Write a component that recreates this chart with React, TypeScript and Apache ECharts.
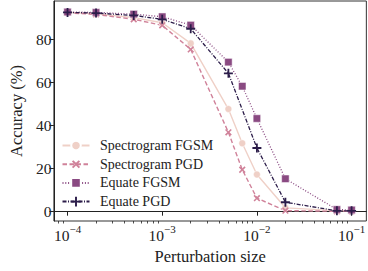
import React, { useEffect, useRef } from "react";
import * as echarts from "echarts";

const perturbation = [1e-4, 2e-4, 5e-4, 1e-3, 2e-3, 5e-3, 7e-3, 1e-2, 2e-2, 7e-2, 1e-1];
const perturbationEqPGD = [1e-4, 2e-4, 5e-4, 1e-3, 2e-3, 5e-3, 1e-2, 2e-2, 7e-2, 1e-1];
const spectrogramFGSM = [92.6, 92.0, 90.2, 87.8, 78.2, 47.7, 31.8, 17.3, 1.8, 0.5, 0.5];
const spectrogramPGD = [92.4, 91.7, 89.4, 86.6, 75.4, 36.9, 19.5, 6.3, 0.5, 0.2, 0.2];
const equateFGSM = [92.8, 92.6, 91.8, 90.6, 86.7, 69.5, 58.3, 43.3, 15.3, 1.0, 0.8];
const equatePGD = [92.6, 92.3, 91.2, 89.4, 85.0, 64.3, 29.6, 4.4, 0.4, 0.4];
const xMajorTicks = [1e-4, 1e-3, 1e-2, 1e-1];
const yTicks = [0, 20, 40, 60, 80];

const FONT = "Liberation Serif";
const PLUS = "path://M4,0H6V4H10V6H6V10H4V6H0V4H4Z";

function minorTicks(): number[] {
  const out: number[] = [];
  for (let e = -5; e <= 0; e++) {
    for (let m = 2; m <= 9; m++) out.push(m * Math.pow(10, e));
  }
  return out;
}

export default function App() {
  const ref = useRef<HTMLDivElement>(null);
  useEffect(() => {
    if (!ref.current) return;
    const chart = echarts.init(ref.current, null, { renderer: "svg" });
    const xMin = Math.pow(10, -4.144);
    const xMax = Math.pow(10, -0.844);
    const pair = (xs: number[], ys: number[]) => xs.map((x, i) => [x, ys[i]]);
    const axisColor = "#222";
    chart.setOption({
      animation: false,
      textStyle: { fontFamily: FONT },
      grid: {
        left: 50,
        top: 1,
        width: 320.8,
        height: 220,
        show: true,
        borderColor: "#333",
        borderWidth: 1,
      },
      legend: {
        orient: "vertical",
        left: 61.5,
        top: 138.5,
        padding: 0,
        itemWidth: 27,
        itemHeight: 12,
        itemGap: 4.7,
        symbolRotate: "inherit",
        textStyle: {
          fontFamily: FONT,
          fontSize: 14,
          color: "#222",
          lineHeight: 14,
          padding: [0, 0, 0, 5.5],
        },
        data: ["Spectrogram FGSM", "Spectrogram PGD", "Equate FGSM", "Equate PGD"],
      },
      xAxis: [
        {
          type: "log",
          min: xMin,
          max: xMax,
          name: "Perturbation size",
          nameLocation: "middle",
          nameGap: 27,
          nameTextStyle: { fontFamily: FONT, fontSize: 16.5, color: "#222" },
          axisLine: { show: true, lineStyle: { color: axisColor, width: 1 } },
          axisTick: { show: true, length: 4, customValues: xMajorTicks, lineStyle: { color: axisColor } },
          axisLabel: {
            show: true,
            customValues: xMajorTicks,
            margin: 2,
            fontFamily: FONT,
            formatter: (v: number) => `{b|10}{s|−${Math.abs(Math.round(Math.log10(v)))}}`,
            rich: {
              b: { fontFamily: FONT, fontSize: 15.5, color: "#222", lineHeight: 16, verticalAlign: "bottom" },
              s: { fontFamily: FONT, fontSize: 11, color: "#222", padding: [0, 0, 9, 0], verticalAlign: "bottom" },
            },
          },
          splitLine: { show: false },
          minorTick: { show: false },
        },
        {
          type: "log",
          min: xMin,
          max: xMax,
          position: "bottom",
          axisLine: { show: false },
          axisTick: { show: true, length: 2.5, customValues: minorTicks(), lineStyle: { color: axisColor, width: 0.8 } },
          axisLabel: { show: false },
          splitLine: { show: false },
        },
      ],
      yAxis: {
        type: "value",
        min: -4.32,
        max: 97.9,
        name: "Accuracy (%)",
        nameLocation: "middle",
        nameGap: 28,
        nameTextStyle: { fontFamily: FONT, fontSize: 16.5, color: "#222" },
        axisLine: { show: true, lineStyle: { color: axisColor, width: 1 } },
        axisTick: { show: true, length: 4.5, customValues: yTicks, lineStyle: { color: axisColor } },
        axisLabel: {
          customValues: yTicks,
          margin: 2.5,
          fontFamily: FONT,
          fontSize: 15.5,
          color: "#222",
        },
        splitLine: { show: false },
      },
      series: [
        {
          name: "Spectrogram FGSM",
          type: "line",
          data: pair(perturbation, spectrogramFGSM),
          symbol: "circle",
          symbolSize: 7,
          itemStyle: { color: "#efd0c7", borderColor: "#fff", borderWidth: 0.5 },
          lineStyle: { color: "#efd0c7", width: 1.4, type: "solid" },
        },
        {
          name: "Spectrogram PGD",
          type: "line",
          data: pair(perturbation, spectrogramPGD),
          symbol: PLUS,
          symbolRotate: 45,
          symbolSize: 8,
          symbolKeepAspect: true,
          itemStyle: { color: "#d0829a" },
          lineStyle: { color: "#d0829a", width: 1.4, type: [4.5, 2.5] },
        },
        {
          name: "Equate FGSM",
          type: "line",
          data: pair(perturbation, equateFGSM),
          symbol: "rect",
          symbolSize: 7.5,
          itemStyle: { color: "#8a4a82", borderColor: "#fff", borderWidth: 0.5 },
          lineStyle: { color: "#8a4a82", width: 1.3, type: [1, 1.8] },
        },
        {
          name: "Equate PGD",
          type: "line",
          data: pair(perturbationEqPGD, equatePGD),
          symbol: PLUS,
          symbolSize: 9,
          symbolKeepAspect: true,
          itemStyle: { color: "#2c1d4a" },
          lineStyle: { color: "#2c1d4a", width: 1.3, type: [4, 1.5, 1, 1.5] },
        },
      ],
    });
    return () => chart.dispose();
  }, []);
  return (
    <div
      ref={ref}
      style={{ position: "absolute", left: 0, top: 0, width: 368, height: 271 }}
    />
  );
}
